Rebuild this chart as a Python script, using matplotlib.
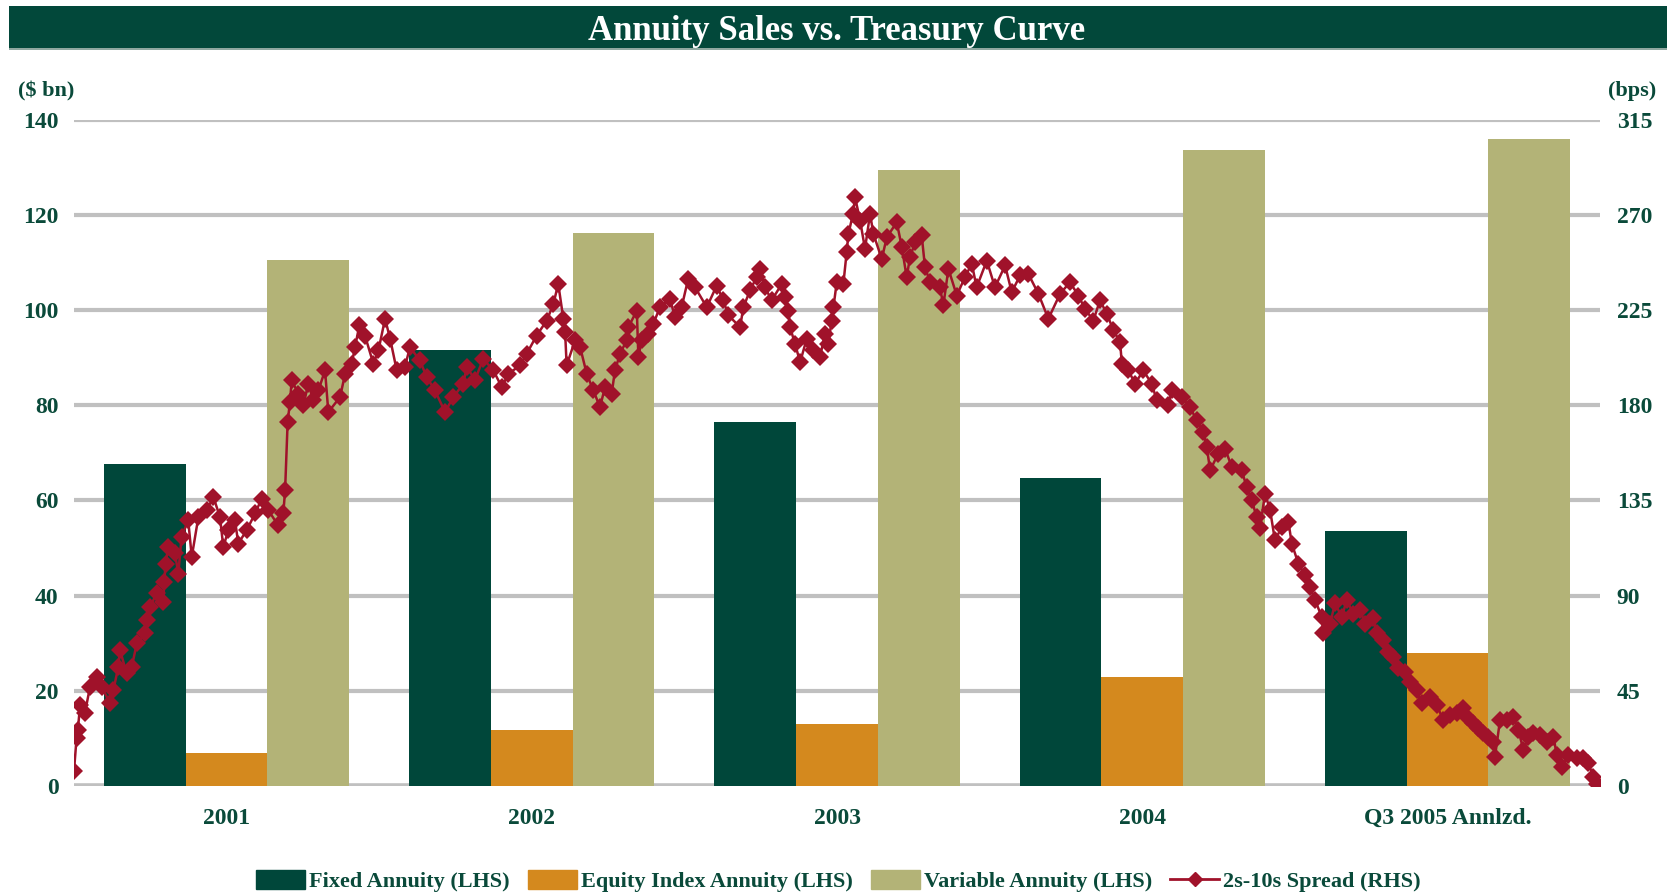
import matplotlib
matplotlib.use("Agg")
import matplotlib.pyplot as plt
from matplotlib.patches import Rectangle, Patch
from matplotlib.lines import Line2D
import numpy as np

# ---------------- data ----------------
categories = ["2001", "2002", "2003", "2004", "Q3 2005 Annlzd."]
fixed_annuity = [67.7, 91.5, 76.4, 64.8, 53.6]
equity_index_annuity = [6.9, 11.8, 13.0, 23.0, 27.9]
variable_annuity = [110.5, 116.1, 129.3, 133.5, 135.8]

left_ticks = [0, 20, 40, 60, 80, 100, 120, 140]
right_ticks = [0, 45, 90, 135, 180, 225, 270, 315]

# 2s-10s spread: months since Jan-2001 and value in bps
spread_month = [
    0.00, 0.10, 0.15, 0.24, 0.43, 0.63, 0.89, 1.09, 1.42, 1.55, 1.74, 1.81, 2.07, 2.27, 2.47,
    2.79, 2.86, 2.99, 3.25, 3.51, 3.55, 3.60, 3.71, 3.97, 4.10, 4.23, 4.49, 4.63, 4.89, 5.22,
    5.48, 5.74, 5.87, 6.07, 6.33, 6.46, 6.79, 7.12, 7.38, 7.64, 8.03, 8.23, 8.30, 8.40, 8.49,
    8.56, 8.82, 9.02, 9.21, 9.41, 9.61,
    9.87, 10.00, 10.46, 10.66, 10.92, 11.05, 11.22, 11.44, 11.77, 11.97, 12.23, 12.43, 12.69,
    13.01, 13.21, 13.60, 13.87, 14.19, 14.59, 14.91, 15.31, 15.44, 15.77, 16.09, 16.49, 16.82,
    17.08, 17.54, 17.80, 18.19, 18.59, 18.85, 19.04, 19.24, 19.31, 19.37, 19.70,
    19.90, 20.16, 20.42, 20.68, 20.88, 21.14, 21.27, 21.47, 21.73, 21.80, 22.13, 22.19, 22.32,
    22.58, 22.78, 23.04, 23.43, 23.63, 23.89, 24.15, 24.42, 24.88, 25.27, 25.53, 25.73, 26.19,
    26.32, 26.58, 26.84, 26.97, 27.17, 27.43, 27.83, 27.96, 28.09, 28.15, 28.35, 28.55, 28.81,
    29.07, 29.33, 29.53, 29.66, 29.79, 29.86, 29.99,
    30.25, 30.38, 30.45, 30.63, 30.71, 30.91, 31.10, 31.30, 31.43, 31.76, 31.96, 32.35, 32.55,
    32.74, 32.87, 33.07, 33.33, 33.46, 33.66, 34.05, 34.18, 34.38, 34.71, 35.03, 35.30, 35.49,
    35.89, 36.21, 36.61, 36.87, 37.20, 37.52, 37.92, 38.31, 38.77, 39.16, 39.49, 39.75, 40.08,
    40.34, 40.61, 40.87, 41.13, 41.20, 41.46, 41.72, 42.04, 42.38, 42.57, 43.03, 43.16, 43.55,
    43.88, 44.14, 44.40, 44.54, 44.67, 44.99, 45.26, 45.52, 45.91, 46.11, 46.31, 46.50, 46.63,
    46.83, 47.03, 47.22, 47.49, 47.75, 47.88, 48.14, 48.40, 48.60, 48.80, 49.06, 49.12, 49.39,
    49.58, 49.85, 50.04, 50.30,
    50.57, 50.76, 51.09, 51.22, 51.48, 51.68, 51.87, 52.07, 52.34, 52.53, 52.79, 52.99, 53.32,
    53.58, 53.84, 54.10, 54.37, 54.63, 54.76, 55.02, 55.22, 55.41, 55.61, 55.81, 55.87, 56.07,
    56.33, 56.59, 56.79, 56.99, 57.18, 57.38, 57.64, 57.91, 58.17, 58.30, 58.50, 58.76, 59.09,
    59.35, 59.54, 59.74, 59.90,
]
spread_bps = [
    7.2, 22.5, 26.4, 38.2, 34.5, 46.9, 51.6, 46.9, 39.0, 45.3, 56.3, 64.2, 53.2, 56.3, 67.4,
    72.1, 78.4, 84.7, 91.0, 87.0, 96.5, 105.1, 113.0, 109.9, 100.4, 117.7, 125.6, 108.3, 127.1, 130.3,
    136.6, 127.1, 113.0, 120.9, 125.6, 114.6, 120.9, 128.8, 135.8, 130.3, 123.2, 128.8, 139.8, 172.0, 181.4,
    191.7, 185.4, 179.9, 190.1, 182.2, 187.0,
    196.4, 176.7, 183.8, 194.8, 199.6, 207.4, 217.7, 212.9, 199.6, 205.9, 220.8, 211.4, 196.4,
    198.0, 207.4, 201.1, 193.2, 187.0, 176.7, 183.8, 190.1, 198.0, 192.0, 201.9, 196.4, 188.5,
    194.8, 198.8, 204.3, 212.9, 220.0, 227.9, 237.3, 220.8, 214.5, 198.8, 210.6,
    207.4, 194.8, 187.0, 179.1, 188.5, 185.4, 196.4, 204.3, 210.6, 216.9, 224.7, 202.7, 210.6,
    213.7, 218.5, 226.3, 230.3, 221.6, 226.3, 239.7, 235.7, 226.3, 236.5, 229.5, 222.4, 216.9,
    226.3, 234.2, 240.5, 244.4, 235.7, 229.5, 237.3, 231.0, 224.7, 216.9, 209.0, 200.3, 211.4,
    205.9, 202.7, 213.7, 209.0, 220.0, 226.3, 238.1,
    237.3, 252.3, 261.0, 270.4, 278.2, 267.2, 253.9, 270.4, 261.0, 249.1, 259.4, 266.4, 254.6,
    240.5, 249.9, 257.0, 260.2, 245.2, 238.1, 235.7, 227.1, 244.4, 231.8, 240.5, 246.8, 235.7,
    248.3, 235.7, 246.0, 233.4, 241.3, 242.1, 232.6, 220.8, 232.6, 238.1, 231.8, 225.5, 220.0,
    229.5, 223.2, 215.3, 209.8, 199.6, 196.4, 190.1, 196.4, 190.1, 182.2, 179.9, 187.0, 183.8,
    179.1, 172.8, 167.3, 160.2, 149.2, 157.1, 159.4, 150.8, 149.2, 141.3, 135.0, 127.1, 121.7,
    138.2, 130.3, 116.1, 122.4, 124.8, 114.6, 105.1, 99.6, 94.1, 87.8, 79.9, 72.1, 76.8,
    86.3, 79.9, 87.8, 81.5,
    83.1, 76.8, 79.2, 72.1, 68.9, 63.4, 61.1, 55.6, 54.0, 49.3, 45.3, 39.0, 42.2,
    38.2, 31.2, 33.5, 34.3, 36.7, 32.7, 29.6, 27.2, 24.9, 23.3, 20.9, 13.8, 31.2,
    31.2, 32.7, 26.4, 17.0, 23.3, 24.9, 24.1, 20.9, 23.3, 14.6, 9.1, 14.6, 13.1,
    13.1, 10.7, 4.4, 0.9,
]

series_labels = ["Fixed Annuity (LHS)", "Equity Index Annuity (LHS)",
                 "Variable Annuity (LHS)", "2s-10s Spread (RHS)"]

# ---------------- style ----------------
GREEN = "#00473A"
ORANGE = "#D4891E"
KHAKI = "#B3B377"
RED = "#A0122A"
TXT = "#0A4A3A"
GRID = "#C0C0C0"
FONT = "Liberation Serif"

plt.rcParams["font.family"] = [FONT, "DejaVu Serif"]
plt.rcParams["font.weight"] = "bold"

W, H = 1667, 893
fig = plt.figure(figsize=(W / 100, H / 100), dpi=100)

# title banner
fig.patches.append(Rectangle((8.5 / W, 1 - 49 / H), 1 - 8.5 / W, 43 / H,
                             transform=fig.transFigure, facecolor="#02483A",
                             edgecolor="none", zorder=0))
fig.patches.append(Rectangle((8.5 / W, 1 - 50 / H), 1 - 8.5 / W, 1.5 / H,
                             transform=fig.transFigure, facecolor="#8FA8A0",
                             edgecolor="none", zorder=0))
fig.text(0.502, 1 - 31.5 / H, "Annuity Sales vs. Treasury Curve", color="white",
         fontsize=25, fontweight="bold", ha="center", va="center", family=FONT)

left, right, bottom, top = 74 / W, 1600 / W, 1 - 786 / H, 1 - 119.5 / H
ax = fig.add_axes([left, bottom, right - left, top - bottom])

x = np.arange(len(categories))
bw = 0.268
ax.bar(x - bw, fixed_annuity, bw, color=GREEN, zorder=3)
ax.bar(x, equity_index_annuity, bw, color=ORANGE, zorder=3)
ax.bar(x + bw, variable_annuity, bw, color=KHAKI, zorder=3)

ax.set_xlim(-0.5, len(categories) - 0.5)
ax.set_ylim(0, 140)
ax.set_yticks(left_ticks)
ax.yaxis.grid(True, color=GRID, linewidth=3, zorder=0)
ax.set_axisbelow(True)
for s in ax.spines.values():
    s.set_visible(False)
ax.axhline(0, color=GRID, linewidth=4, zorder=2)
ax.set_xticks(x)
ax.set_xticklabels(categories)
ax.tick_params(axis="both", length=0, labelcolor=TXT, labelsize=17)
ax.tick_params(axis="x", pad=16)
ax.tick_params(axis="y", pad=11)
for lab in ax.get_xticklabels() + ax.get_yticklabels():
    lab.set_fontweight("bold")

# line axis
axl = fig.add_axes(ax.get_position(), frameon=False)
axl.plot(spread_month, spread_bps, color=RED, linewidth=1.8, marker="D",
         markersize=9, markeredgewidth=0, zorder=5)
axl.set_xlim(0, 60)
axl.set_ylim(0, 315)
axl.set_xticks([])
axl.yaxis.tick_right()
axl.set_yticks(right_ticks)
axl.tick_params(axis="y", length=0, labelcolor=TXT, labelsize=17, pad=12)
for lab in axl.get_yticklabels():
    lab.set_fontweight("bold")
axl.patch.set_visible(False)

fig.text(18 / W, 1 - 91 / H, "($ bn)", color=TXT, fontsize=16, fontweight="bold",
         ha="left", va="center")
fig.text(1656 / W, 1 - 91 / H, "(bps)", color=TXT, fontsize=16, fontweight="bold",
         ha="right", va="center")

handles = [Patch(color=GREEN), Patch(color=ORANGE), Patch(color=KHAKI),
           Line2D([0], [0], color=RED, linewidth=2, marker="D", markersize=7)]
leg = fig.legend(handles, series_labels, loc="center", bbox_to_anchor=(0.503, 1 - 881 / H),
                 ncol=4, frameon=False, fontsize=16, handlelength=2.2, handleheight=0.9,
                 handletextpad=0.2, columnspacing=0.8)
for t in leg.get_texts():
    t.set_color(TXT)
    t.set_fontweight("bold")

fig.savefig("out.png", dpi=100)
